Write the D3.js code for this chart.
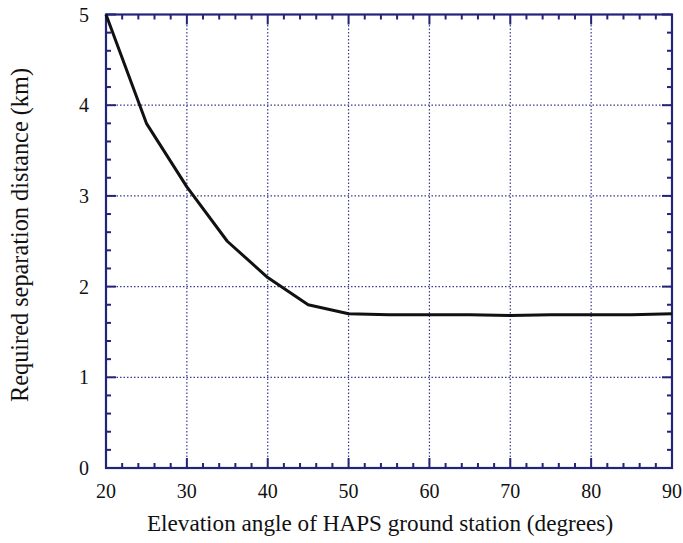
<!DOCTYPE html>
<html lang="en">
<head>
  <meta charset="UTF-8">
  <title>Required separation distance</title>
  <script src="https://d3js.org/d3.v7.min.js"></script>
  <style>
    body { margin: 0; background: white; }
  </style>
</head>
<body>
  <svg id="chart" width="683" height="543"></svg>
  <script>
    // elevation angle (degrees) vs required separation distance (km)
    const angles = [20, 25, 30, 35, 40, 45, 50, 55, 60, 65, 70, 75, 80, 85, 90];
    const distances = [5.0, 3.8, 3.1, 2.5, 2.1, 1.8, 1.7, 1.69, 1.69, 1.69, 1.68, 1.69, 1.69, 1.69, 1.7];
    const xTicks = [20, 30, 40, 50, 60, 70, 80, 90];
    const yTicks = [0, 1, 2, 3, 4, 5];

    const font = "'Liberation Serif', 'Times New Roman', Times, 'DejaVu Serif', serif";

    const svg = d3.select("#chart"),
      margin = {top: 14.5, right: 11, bottom: 75, left: 106},
      width = +svg.attr("width") - margin.left - margin.right,
      height = +svg.attr("height") - margin.top - margin.bottom;

    const g = svg.append("g").attr("transform", `translate(${margin.left},${margin.top})`)
      .attr("font-family", font);

    const x = d3.scaleLinear().domain([20, 90]).range([0, width]);
    const y = d3.scaleLinear().domain([0, 5]).range([height, 0]);

    const axisColor = "#23237a";

    // dotted grid
    g.selectAll(".vgrid").data(xTicks.slice(1, -1)).enter().append("line")
      .attr("x1", d => x(d)).attr("x2", d => x(d))
      .attr("y1", 0).attr("y2", height)
      .attr("stroke", "#3a3a90").attr("stroke-width", 1.2).attr("stroke-dasharray", "1.5,2");
    g.selectAll(".hgrid").data(yTicks.slice(1, -1)).enter().append("line")
      .attr("x1", 0).attr("x2", width)
      .attr("y1", d => y(d)).attr("y2", d => y(d))
      .attr("stroke", "#3a3a90").attr("stroke-width", 1.2).attr("stroke-dasharray", "1.5,2");

    // inward ticks on all four sides
    const xMinor = d3.range(20, 90.01, 2);
    const yMinor = d3.range(0, 5.001, 0.2);
    function tickLen(v, step) { return Math.abs(v / step - Math.round(v / step)) < 1e-6 ? 10 : 5; }

    g.selectAll(".xt").data(xMinor).enter().append("line")
      .attr("x1", d => x(d)).attr("x2", d => x(d))
      .attr("y1", height).attr("y2", d => height - tickLen(d, 10))
      .attr("stroke", axisColor).attr("stroke-width", 2);
    g.selectAll(".xtt").data(xMinor).enter().append("line")
      .attr("x1", d => x(d)).attr("x2", d => x(d))
      .attr("y1", 0).attr("y2", d => tickLen(d, 10))
      .attr("stroke", axisColor).attr("stroke-width", 2);
    g.selectAll(".yt").data(yMinor).enter().append("line")
      .attr("y1", d => y(d)).attr("y2", d => y(d))
      .attr("x1", 0).attr("x2", d => tickLen(d, 1))
      .attr("stroke", axisColor).attr("stroke-width", 2);
    g.selectAll(".ytr").data(yMinor).enter().append("line")
      .attr("y1", d => y(d)).attr("y2", d => y(d))
      .attr("x1", width).attr("x2", d => width - tickLen(d, 1))
      .attr("stroke", axisColor).attr("stroke-width", 2);

    // frame
    g.append("rect")
      .attr("x", 0).attr("y", 0).attr("width", width).attr("height", height)
      .attr("fill", "none").attr("stroke", axisColor).attr("stroke-width", 2.2);

    // tick labels
    g.selectAll(".xl").data(xTicks).enter().append("text")
      .attr("x", d => x(d)).attr("y", height + 30)
      .attr("text-anchor", "middle").attr("font-size", "20px").attr("fill", "#111")
      .text(d => d);
    g.selectAll(".yl").data(yTicks).enter().append("text")
      .attr("x", -17).attr("y", d => y(d) + 7)
      .attr("text-anchor", "end").attr("font-size", "20px").attr("fill", "#111")
      .text(d => d);

    // curve
    const pts = angles.map((a, i) => [a, distances[i]]);
    g.append("path")
      .datum(pts)
      .attr("fill", "none").attr("stroke", "#111").attr("stroke-width", 3)
      .attr("stroke-linejoin", "round")
      .attr("d", d3.line().x(d => x(d[0])).y(d => y(d[1])));

    // axis titles, sized to the span they take in the original
    function fit(sel, target) {
      const w = sel.node().getComputedTextLength();
      const fs = parseFloat(sel.attr("font-size"));
      sel.attr("font-size", (fs * target / w).toFixed(1) + "px");
    }
    const xt = g.append("text")
      .attr("x", (147 + 613) / 2 - margin.left).attr("y", height + 63)
      .attr("text-anchor", "middle").attr("font-size", "20px").attr("fill", "#111")
      .text("Elevation angle of HAPS ground station (degrees)");
    fit(xt, 466);
    const yt = g.append("text")
      .attr("transform", "rotate(-90)")
      .attr("x", -(235 - margin.top)).attr("y", -78)
      .attr("text-anchor", "middle").attr("font-size", "20px").attr("fill", "#111")
      .text("Required separation distance (km)");
    fit(yt, 334);
  </script>
</body>
</html>
